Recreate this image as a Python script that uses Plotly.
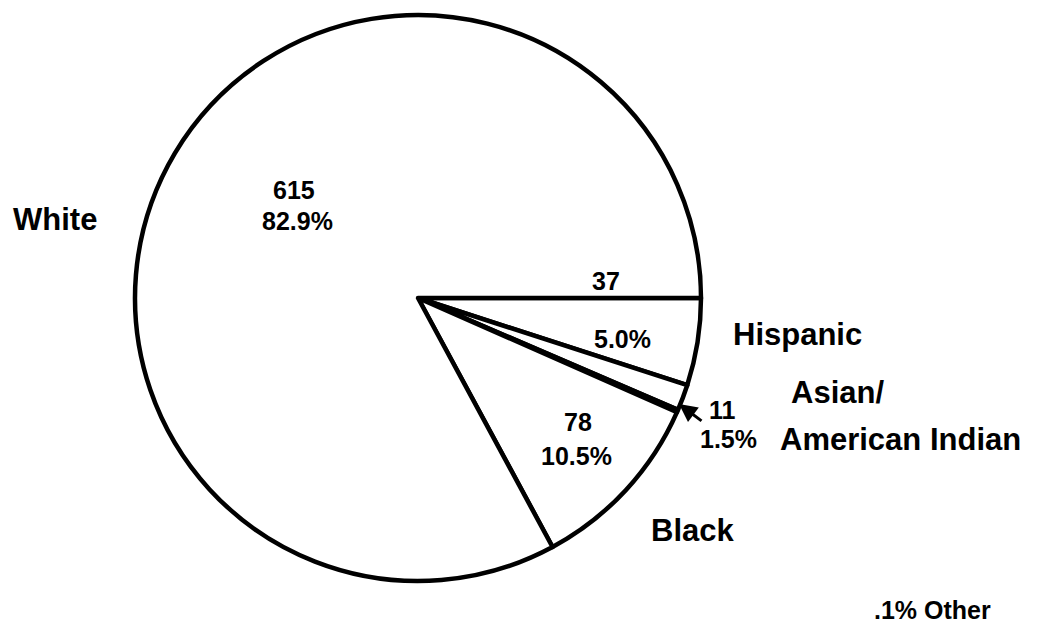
import plotly.graph_objects as go

# Data
groups = ["Hispanic", "Asian/American Indian", "Other", "Black", "White"]
counts = [37, 11, 1, 78, 615]
percents = ["5.0%", "1.5%", ".1%", "10.5%", "82.9%"]

W, H = 1039, 631

def px(x):
    return x / W

def py(y):
    return 1 - y / H

# Pie geometry (pixels)
cx, cy, r = 418, 298, 283

fig = go.Figure(go.Pie(
    labels=groups,
    values=counts,
    sort=False,
    direction="clockwise",
    rotation=90,
    textinfo="none",
    hoverinfo="label+value+percent",
    marker=dict(colors=["white"] * len(groups), line=dict(color="black", width=4.5)),
    domain=dict(x=[px(cx - r), px(cx + r)], y=[py(cy + r), py(cy - r)]),
    showlegend=False,
))

font_big = dict(family="Liberation Sans, Arial, sans-serif", size=31, color="black")
font_num = dict(family="Liberation Sans, Arial, sans-serif", size=25, color="black")
font_small = dict(family="Liberation Sans, Arial, sans-serif", size=25, color="black")

# (text, x px, y px, font)
texts = [
    ("<b>White</b>", 55, 219, font_big),
    (f"<b>{counts[4]}</b>", 294, 190, font_num),
    (f"<b>{percents[4]}</b>", 297, 221, font_num),
    (f"<b>{counts[0]}</b>", 606, 281, font_num),
    (f"<b>{percents[0]}</b>", 622, 339, font_num),
    ("<b>Hispanic</b>", 797, 334, font_big),
    ("<b>Asian/</b>", 837, 393, font_big),
    (f"<b>{counts[1]}</b>", 722, 410, font_num),
    (f"<b>{percents[1]}</b>", 728, 439, font_num),
    ("<b>American Indian</b>", 900, 439, font_big),
    (f"<b>{counts[3]}</b>", 578, 422, font_num),
    (f"<b>{percents[3]}</b>", 576, 456, font_num),
    ("<b>Black</b>", 692, 530, font_big),
    (f"<b>{percents[2]} Other</b>", 932, 610, font_small),
]

annotations = [
    dict(text=t, x=px(x), y=py(y), xref="paper", yref="paper",
         xanchor="center", yanchor="middle", showarrow=False, font=f)
    for t, x, y, f in texts
]

# Arrow pointing to Asian/American Indian slice
annotations.append(dict(
    text="", x=px(679), y=py(404), xref="paper", yref="paper",
    showarrow=True, ax=24, ay=18, arrowhead=2, arrowsize=1.2,
    arrowwidth=3, arrowcolor="black",
))

fig.update_layout(
    width=W, height=H,
    margin=dict(l=0, r=0, t=0, b=0),
    paper_bgcolor="white",
    plot_bgcolor="white",
    annotations=annotations,
)

fig.write_html("out.html")
